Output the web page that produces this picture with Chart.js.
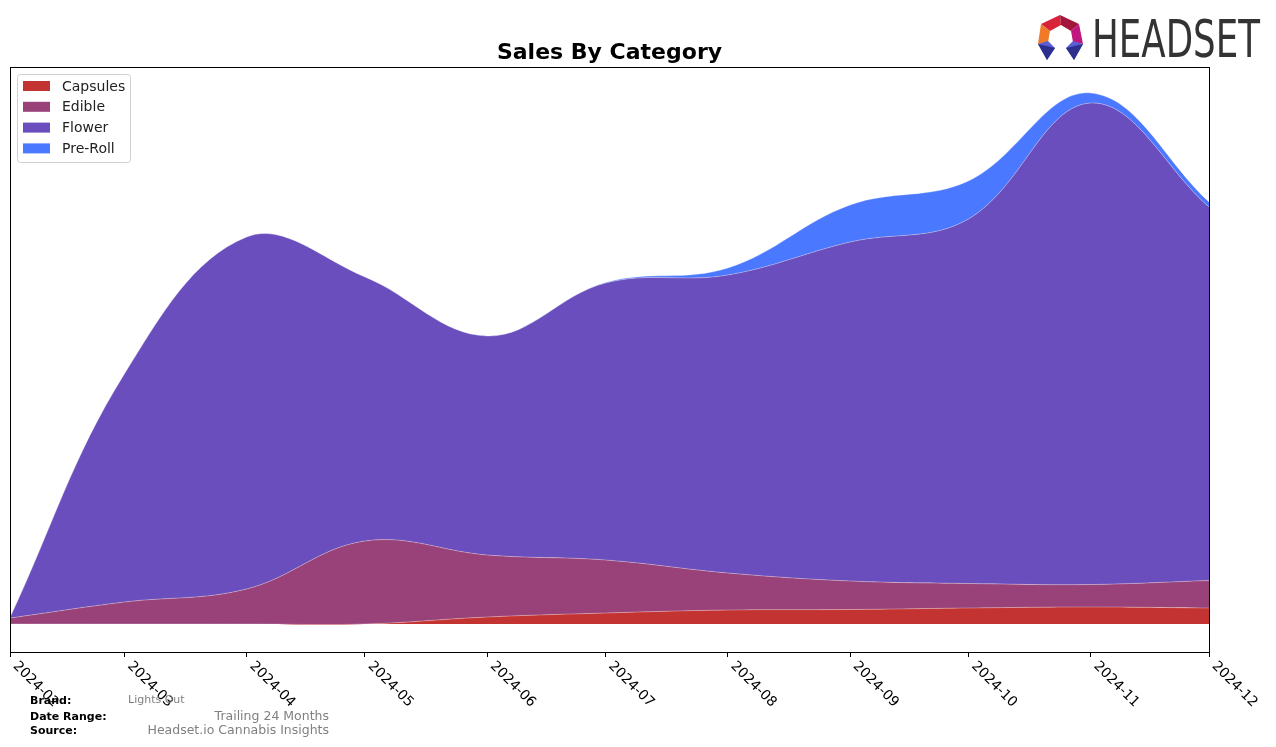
<!DOCTYPE html>
<html>
<head>
<meta charset="utf-8">
<script src="https://cdn.jsdelivr.net/npm/chart.js@4.4.1/dist/chart.umd.min.js"></script>
<style>
  html, body { margin: 0; padding: 0; background: #fff; }
  #wrap { position: relative; width: 1276px; height: 747px; }
  .foot { position: absolute; font-family: "DejaVu Sans", sans-serif; white-space: nowrap; }
  .lbl { font-weight: bold; font-size: 11px; color: #000; left: 30px; }
  .val { font-size: 12.5px; color: #808080; }
</style>
</head>
<body>
<div id="wrap">
  <canvas id="salesChart" width="1276" height="747"></canvas>
  <div class="foot lbl" style="top:694px;">Brand:</div>
  <div class="foot val" style="top:693px;left:128px;font-size:11px;">Lights Out</div>
  <div class="foot lbl" style="top:710px;">Date Range:</div>
  <div class="foot val" style="top:708px;right:947px;">Trailing 24 Months</div>
  <div class="foot lbl" style="top:724px;">Source:</div>
  <div class="foot val" style="top:722px;right:947px;">Headset.io Cannabis Insights</div>
</div>
<script>
const months = ["2024-02", "2024-03", "2024-04", "2024-05", "2024-06", "2024-07",
  "2024-08", "2024-09", "2024-10", "2024-11", "2024-12"];

// stacked bottom to top
const capsules = [0, 0, 0, 0, 7, 11, 14, 14.5, 16, 17, 16];
const edible = [6, 22, 35, 83, 62, 53, 37, 28.5, 24.5, 22.5, 27.5];
const flower = [0.5, 228, 352, 264, 219, 277, 298, 339, 364.5, 481.5, 373.5];
const preRoll = [0, 0, 0, 0, 0, 0.5, 7, 37, 38, 10, 5];

const seriesNames = ["Capsules", "Edible", "Flower", "Pre-Roll"];
const seriesColors = ["#c33332", "#984279", "#6a4ebd", "#4a78ff"];

function dayOffset(month) {
  const [y, m] = month.split("-").map(Number);
  return (Date.UTC(y, m - 1, 1) - Date.UTC(2024, 1, 1)) / 86400000;
}

const xValues = months.map(dayOffset);

function toPoints(values) {
  return values.map((v, i) => ({ x: xValues[i], y: v }));
}

const decorations = {
  id: "decorations",
  afterDraw(chart) {
    const ctx = chart.ctx;
    const area = chart.chartArea;
    const xScale = chart.scales.x;

    ctx.save();
    // frame
    ctx.strokeStyle = "#000";
    ctx.lineWidth = 1;
    ctx.strokeRect(area.left + 0.5, area.top + 0.5, area.right - area.left, area.bottom - area.top);

    // rotated tick labels
    ctx.fillStyle = "#000";
    ctx.font = "13.9px 'DejaVu Sans'";
    ctx.textAlign = "left";
    ctx.textBaseline = "top";
    months.forEach((m, i) => {
      const px = xScale.getPixelForValue(xValues[i]);
      ctx.save();
      ctx.translate(px + 10, area.bottom + 7);
      ctx.rotate(Math.PI / 4);
      ctx.fillText(m, 0, 0);
      ctx.restore();
    });

    // title
    ctx.font = "bold 22px 'DejaVu Sans'";
    ctx.textAlign = "center";
    ctx.textBaseline = "alphabetic";
    ctx.fillText("Sales By Category", (area.left + area.right) / 2, 59);

    // legend
    const lx = 17, ly = 74;
    ctx.fillStyle = "rgba(255,255,255,0.85)";
    ctx.strokeStyle = "#d0d0d0";
    ctx.beginPath();
    ctx.roundRect(lx + 0.5, ly + 0.5, 113, 88, 3);
    ctx.fill();
    ctx.stroke();
    ctx.font = "14px 'DejaVu Sans'";
    ctx.textAlign = "left";
    ctx.textBaseline = "middle";
    seriesNames.forEach((name, i) => {
      const cy = 86 + i * 20.8;
      ctx.fillStyle = seriesColors[i];
      ctx.fillRect(23, cy - 5, 27, 10);
      ctx.fillStyle = "#222";
      ctx.fillText(name, 62, cy + 1);
    });

    // logo
    const shard = (pts, color) => {
      ctx.fillStyle = color;
      ctx.beginPath();
      ctx.moveTo(pts[0][0], pts[0][1]);
      pts.slice(1).forEach((p) => ctx.lineTo(p[0], p[1]));
      ctx.closePath();
      ctx.fill();
    };
    shard([[1041, 24], [1060, 15], [1061, 25], [1050, 31]], "#d8243a");
    shard([[1060, 15], [1079, 24], [1071, 31], [1061, 25]], "#a3173d");
    shard([[1041, 24], [1050, 31], [1048, 42], [1038, 44]], "#f07a28");
    shard([[1079, 24], [1083, 44], [1073, 42], [1071, 31]], "#c0177e");
    shard([[1038, 44], [1048, 41], [1055, 48], [1047, 60]], "#5b5fd6");
    shard([[1038, 44], [1055, 48], [1047, 60]], "#2d2f8f");
    shard([[1066, 48], [1073, 41], [1083, 44], [1074, 60]], "#5b5fd6");
    shard([[1066, 48], [1083, 44], [1074, 60]], "#2d2f8f");

    ctx.fillStyle = "#333";
    ctx.font = "51px 'DejaVu Sans'";
    ctx.textAlign = "left";
    ctx.textBaseline = "alphabetic";
    const w = ctx.measureText("HEADSET").width;
    ctx.save();
    ctx.translate(1092, 57);
    ctx.scale(168 / w, 1);
    ctx.fillText("HEADSET", 0, 0);
    ctx.restore();

    ctx.restore();
  },
};

function makeDataset(label, values, color, index) {
  return {
    label,
    data: toPoints(values),
    backgroundColor: color,
    borderColor: "rgba(255,255,255,0.3)",
    borderWidth: 1,
    pointRadius: 0,
    tension: 0.38,
    fill: index === 0 ? "origin" : "-1",
  };
}

document.addEventListener("DOMContentLoaded", () => {
  const ctx = document.getElementById("salesChart").getContext("2d");
  new Chart(ctx, {
    type: "line",
    data: {
      datasets: [
        makeDataset(seriesNames[0], capsules, seriesColors[0], 0),
        makeDataset(seriesNames[1], edible, seriesColors[1], 1),
        makeDataset(seriesNames[2], flower, seriesColors[2], 2),
        makeDataset(seriesNames[3], preRoll, seriesColors[3], 3),
      ],
    },
    options: {
      responsive: false,
      animation: false,
      layout: { padding: { left: 10, top: 67, right: 67, bottom: 90 } },
      plugins: {
        legend: { display: false },
        title: { display: false },
        tooltip: { enabled: false },
      },
      scales: {
        x: {
          type: "linear",
          min: xValues[0],
          max: xValues[xValues.length - 1],
          afterBuildTicks: (axis) => {
            axis.ticks = xValues.map((v) => ({ value: v }));
          },
          ticks: { display: false },
          grid: {
            drawOnChartArea: false,
            drawTicks: true,
            tickLength: 5,
            color: "#000",
          },
          border: { display: true, color: "#000" },
        },
        y: {
          display: false,
          stacked: true,
          min: -28,
          max: 557,
        },
      },
    },
    plugins: [decorations],
  });
});
</script>
</body>
</html>
